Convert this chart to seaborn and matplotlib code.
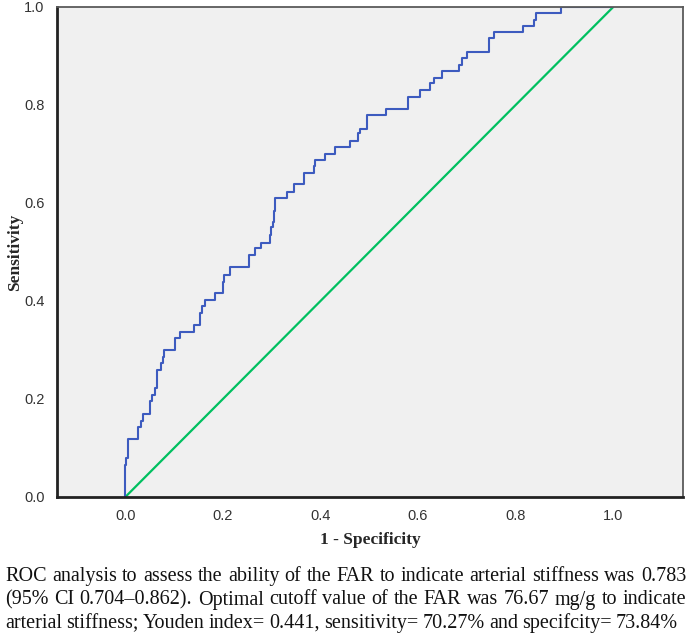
import numpy as np
import pandas as pd
import seaborn as sns
import matplotlib
matplotlib.use("Agg")
import matplotlib.pyplot as plt

# ----- data (corners after each vertical rise) -----
fpr = [0.000, 0.000, 0.002, 0.006, 0.026, 0.032, 0.036, 0.051, 0.055, 0.061,
       0.065, 0.074, 0.077, 0.080, 0.101, 0.113, 0.141, 0.154, 0.157, 0.163,
       0.184, 0.200, 0.203, 0.215, 0.253, 0.266, 0.278, 0.296, 0.299, 0.303,
       0.305, 0.307, 0.331, 0.345, 0.367, 0.386, 0.388, 0.410, 0.430, 0.460,
       0.476, 0.480, 0.495, 0.534, 0.579, 0.604, 0.624, 0.632, 0.650, 0.683,
       0.691, 0.701, 0.746, 0.755, 0.816, 0.837, 0.841, 0.893, 1.000]
tpr = [0.000, 0.065, 0.079, 0.118, 0.143, 0.156, 0.169, 0.195, 0.208, 0.222,
       0.259, 0.273, 0.286, 0.299, 0.324, 0.337, 0.352, 0.376, 0.390, 0.402,
       0.416, 0.439, 0.453, 0.470, 0.494, 0.508, 0.519, 0.535, 0.552, 0.562,
       0.584, 0.610, 0.623, 0.638, 0.662, 0.676, 0.688, 0.701, 0.715, 0.727,
       0.742, 0.752, 0.780, 0.792, 0.817, 0.831, 0.844, 0.856, 0.870, 0.882,
       0.895, 0.909, 0.937, 0.950, 0.961, 0.973, 0.987, 1.000, 1.000]
ref_x = [0.0, 1.0]
ref_y = [0.0, 1.0]
ticks = [0.0, 0.2, 0.4, 0.6, 0.8, 1.0]

caption_lines = [
    "ROC analysis to assess the ability of the FAR to indicate arterial stiffness was 0.783",
    "(95% CI 0.704\u20130.862). Optimal cutoff value of the FAR was 76.67 mg/g to indicate",
    "arterial stiffness; Youden index= 0.441, sensitivity= 70.27% and specifcity= 73.84%",
]

# ----- figure configuration -----
sns.set_style("white")
plt.rcParams["font.family"] = ["Liberation Sans", "DejaVu Sans"]

fig = plt.figure(figsize=(6.92, 6.4), dpi=100)
ax = fig.add_axes([57 / 692, 1 - 497 / 640, (683 - 57) / 692, (497 - 7) / 640])
ax.set_facecolor("#f0f0f0")

roc = pd.DataFrame({"fpr": fpr, "tpr": tpr})
ref = pd.DataFrame({"x": ref_x, "y": ref_y})

sns.lineplot(data=ref, x="x", y="y", ax=ax, color="#00c060", linewidth=1.6,
             estimator=None, sort=False)
sns.lineplot(data=roc, x="fpr", y="tpr", ax=ax, color="#3d5bbf", linewidth=1.5,
             estimator=None, sort=False, drawstyle="steps-post")

ax.set_xlim(-0.14, 1.143)
ax.set_ylim(0, 1)
ax.set_xticks(ticks)
ax.set_yticks(ticks)
ax.set_xticklabels([f"{t:.1f}" for t in ticks])
ax.set_yticklabels([f"{t:.1f}" for t in ticks])
ax.tick_params(axis="both", direction="out", length=6, width=1.5, color="#222222",
               labelsize=10.5, labelcolor="#333333", pad=3)

for side in ["left", "bottom"]:
    ax.spines[side].set_color("#222222")
    ax.spines[side].set_linewidth(2)
for side in ["top", "right"]:
    ax.spines[side].set_color("#5a5a5a")
    ax.spines[side].set_linewidth(1.3)

serif = ["Liberation Serif", "DejaVu Serif"]
ax.set_xlabel("1 - Specificity", fontsize=12.5, fontweight="bold", family=serif)
ax.set_ylabel("Sensitivity", fontsize=12.5, fontweight="bold", family=serif)
ax.xaxis.set_label_coords(0.5, (497 - 540) / 490)
ax.yaxis.set_label_coords((15 - 57) / 626, 0.5)
ax.xaxis.label.set_va("center")
ax.yaxis.label.set_va("center")

# ----- justified caption below the chart -----
renderer = fig.canvas.get_renderer()
x0 = 5
line_right = [686, 686, 678]
line_base = [581, 604.5, 628]
for text, xr, ypx in zip(caption_lines, line_right, line_base):
    words = text.split(" ")
    items = [fig.text(0, 1 - ypx / 640, w, fontsize=14.5, family=serif,
                      va="baseline", ha="left", color="#111111") for w in words]
    widths = [t.get_window_extent(renderer).width for t in items]
    gap = (xr - x0 - sum(widths)) / (len(words) - 1)
    pos = x0
    for t, w in zip(items, widths):
        t.set_x(pos / 692)
        pos += w + gap

fig.savefig("out.png", dpi=100)
